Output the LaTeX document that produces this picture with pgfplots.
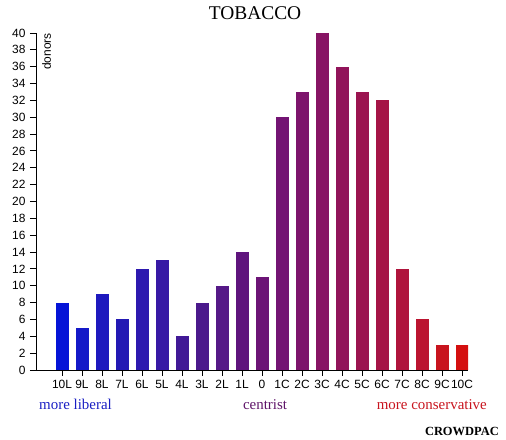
\documentclass[border=0pt]{standalone}
\usepackage{fontspec}
\setmainfont{Liberation Sans}
\newfontfamily\seriffont{Liberation Serif}
\usepackage{pgfplots}
\pgfplotsset{compat=1.18}

% bar colours, running from liberal blue to conservative red
\definecolor{c0}{RGB}{5,20,215}
\definecolor{c1}{RGB}{20,25,200}
\definecolor{c2}{RGB}{30,25,190}
\definecolor{c3}{RGB}{35,25,180}
\definecolor{c4}{RGB}{45,25,175}
\definecolor{c5}{RGB}{55,25,165}
\definecolor{c6}{RGB}{65,25,150}
\definecolor{c7}{RGB}{75,25,140}
\definecolor{c8}{RGB}{85,25,135}
\definecolor{c9}{RGB}{95,20,125}
\definecolor{c10}{RGB}{108,20,118}
\definecolor{c11}{RGB}{115,20,115}
\definecolor{c12}{RGB}{125,20,108}
\definecolor{c13}{RGB}{135,20,100}
\definecolor{c14}{RGB}{145,20,90}
\definecolor{c15}{RGB}{155,20,80}
\definecolor{c16}{RGB}{165,20,70}
\definecolor{c17}{RGB}{175,20,60}
\definecolor{c18}{RGB}{187,20,48}
\definecolor{c19}{RGB}{200,20,30}
\definecolor{c20}{RGB}{212,15,15}
\definecolor{libblue}{RGB}{25,30,195}
\definecolor{cenpurple}{RGB}{95,20,105}
\definecolor{conred}{RGB}{200,20,30}

\begin{document}
\begin{tikzpicture}
\path[use as bounding box] (0,0) rectangle (506bp,440bp);
\begin{axis}[
  at={(36bp,70bp)}, anchor=south west,
  scale only axis,
  width=432bp, height=337bp,
  xmin=-1.3, xmax=20.3,
  ymin=0, ymax=40,
  axis lines=left,
  axis line style={-, line width=0.9pt},
  tick style={black, line width=0.9pt},
  tick align=outside,
  major tick length=6bp,
  xtick={0,...,20},
  xticklabels={10L,9L,8L,7L,6L,5L,4L,3L,2L,1L,0,1C,2C,3C,4C,5C,6C,7C,8C,9C,10C},
  ytick={0,2,...,40},
  ticklabel style={font=\fontsize{12}{14}\selectfont},
  /pgf/number format/assume math mode=true,
  xticklabel style={yshift=-1bp},
  yticklabel style={xshift=-1bp},
  ybar, bar width=13bp,
]
\addplot[fill=c0, draw=none, bar shift=0pt] coordinates {(0,8)};
\addplot[fill=c1, draw=none, bar shift=0pt] coordinates {(1,5)};
\addplot[fill=c2, draw=none, bar shift=0pt] coordinates {(2,9)};
\addplot[fill=c3, draw=none, bar shift=0pt] coordinates {(3,6)};
\addplot[fill=c4, draw=none, bar shift=0pt] coordinates {(4,12)};
\addplot[fill=c5, draw=none, bar shift=0pt] coordinates {(5,13)};
\addplot[fill=c6, draw=none, bar shift=0pt] coordinates {(6,4)};
\addplot[fill=c7, draw=none, bar shift=0pt] coordinates {(7,8)};
\addplot[fill=c8, draw=none, bar shift=0pt] coordinates {(8,10)};
\addplot[fill=c9, draw=none, bar shift=0pt] coordinates {(9,14)};
\addplot[fill=c10, draw=none, bar shift=0pt] coordinates {(10,11)};
\addplot[fill=c11, draw=none, bar shift=0pt] coordinates {(11,30)};
\addplot[fill=c12, draw=none, bar shift=0pt] coordinates {(12,33)};
\addplot[fill=c13, draw=none, bar shift=0pt] coordinates {(13,40)};
\addplot[fill=c14, draw=none, bar shift=0pt] coordinates {(14,36)};
\addplot[fill=c15, draw=none, bar shift=0pt] coordinates {(15,33)};
\addplot[fill=c16, draw=none, bar shift=0pt] coordinates {(16,32)};
\addplot[fill=c17, draw=none, bar shift=0pt] coordinates {(17,12)};
\addplot[fill=c18, draw=none, bar shift=0pt] coordinates {(18,6)};
\addplot[fill=c19, draw=none, bar shift=0pt] coordinates {(19,3)};
\addplot[fill=c20, draw=none, bar shift=0pt] coordinates {(20,3)};
\end{axis}
% axis caption inside the plot area
\node[rotate=90, anchor=north east, inner sep=0pt, font=\fontsize{12}{14}\selectfont]
  at (42bp,407bp) {donors};
% title and political-spectrum captions
\node[anchor=base, inner sep=0pt, font=\seriffont\fontsize{19.5}{22}\selectfont]
  at (255bp,420bp) {TOBACCO};
\node[anchor=base west, inner sep=0pt, text=libblue, font=\seriffont\fontsize{15}{18}\selectfont]
  at (39bp,31bp) {more liberal};
\node[anchor=base, inner sep=0pt, text=cenpurple, font=\seriffont\fontsize{15}{18}\selectfont]
  at (265bp,31bp) {centrist};
\node[anchor=base east, inner sep=0pt, text=conred, font=\seriffont\fontsize{15}{18}\selectfont]
  at (487bp,31bp) {more conservative};
\node[anchor=base east, inner sep=0pt, font=\seriffont\bfseries\fontsize{12.5}{15}\selectfont]
  at (499bp,5bp) {CROWDPAC};
\end{tikzpicture}
\end{document}
